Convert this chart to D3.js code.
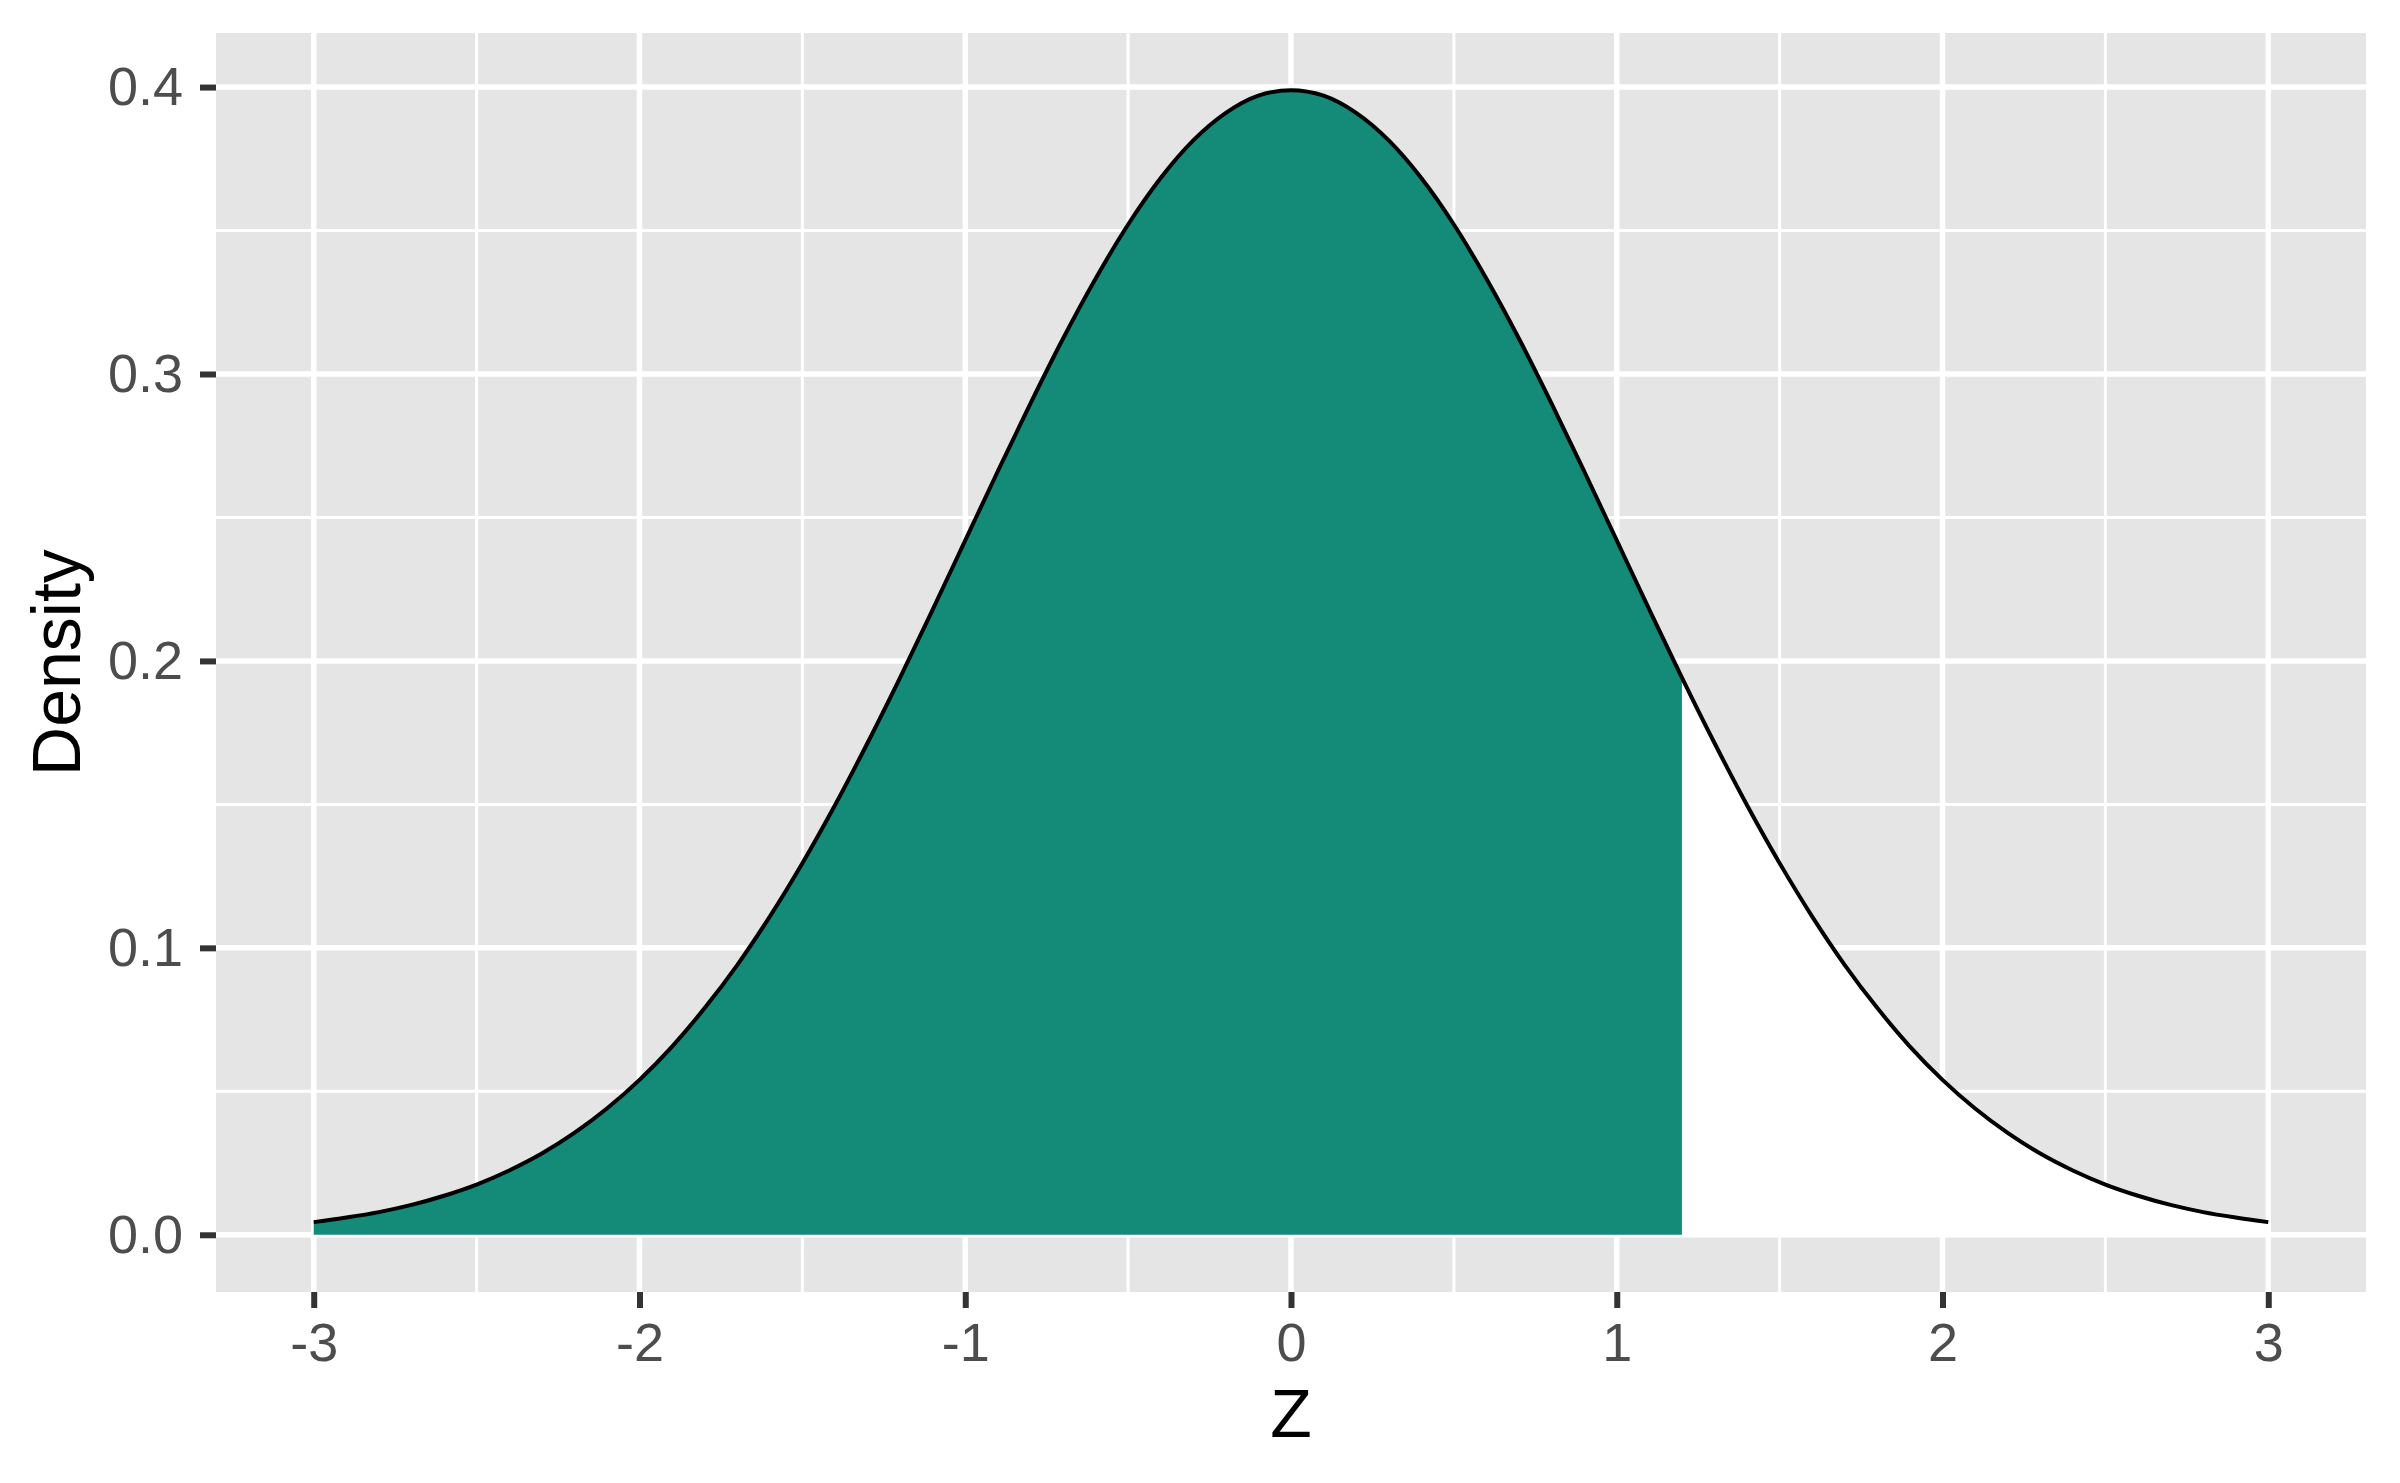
<!DOCTYPE html>
<html>
<head>
<meta charset="utf-8">
<script src="https://cdn.jsdelivr.net/npm/d3@7"></script>
<style>
  html, body { margin: 0; padding: 0; background: #ffffff; }
  svg { display: block; font-family: "Liberation Sans", Arial, Helvetica, sans-serif; }
</style>
</head>
<body>
<svg id="chart" width="2400" height="1483"></svg>
<script>
// ---- data ----
const zValues = [-3.0,-2.9,-2.8,-2.7,-2.6,-2.5,-2.4,-2.3,-2.2,-2.1,-2.0,-1.9,-1.8,-1.7,-1.6,-1.5,-1.4,-1.3,-1.2,-1.1,
  -1.0,-0.9,-0.8,-0.7,-0.6,-0.5,-0.4,-0.3,-0.2,-0.1,0.0,0.1,0.2,0.3,0.4,0.5,0.6,0.7,0.8,0.9,
  1.0,1.1,1.2,1.3,1.4,1.5,1.6,1.7,1.8,1.9,2.0,2.1,2.2,2.3,2.4,2.5,2.6,2.7,2.8,2.9,3.0];
const densityValues = [0.0044,0.0060,0.0079,0.0104,0.0136,0.0175,0.0224,0.0283,0.0355,0.0440,0.0540,0.0656,0.0790,0.0940,0.1109,0.1295,0.1497,0.1714,0.1942,0.2179,
  0.2420,0.2661,0.2897,0.3123,0.3332,0.3521,0.3683,0.3814,0.3910,0.3970,0.3989,0.3970,0.3910,0.3814,0.3683,0.3521,0.3332,0.3123,0.2897,0.2661,
  0.2420,0.2179,0.1942,0.1714,0.1497,0.1295,0.1109,0.0940,0.0790,0.0656,0.0540,0.0440,0.0355,0.0283,0.0224,0.0175,0.0136,0.0104,0.0079,0.0060,0.0044];
const shadeUpper = 1.2;
const xTicks = [-3,-2,-1,0,1,2,3];
const xMinor = [-2.5,-1.5,-0.5,0.5,1.5,2.5];
const yTicks = [0.0,0.1,0.2,0.3,0.4];
const yMinor = [0.05,0.15,0.25,0.35];
const xLabel = "Z";
const yLabel = "Density";

const points = zValues.map((z, i) => ({ z: z, d: densityValues[i] }));
const shaded = points.filter(p => p.z <= shadeUpper + 1e-9);

// ---- layout ----
const panel = { left: 216, right: 2366, top: 33, bottom: 1292 };
const svg = d3.select("#chart");

const zMin = d3.min(zValues), zMax = d3.max(zValues);
const zPad = (zMax - zMin) * 0.05;
const dMax = d3.max(densityValues);
const dPad = dMax * 0.05;

const x = d3.scaleLinear().domain([zMin - zPad, zMax + zPad]).range([panel.left, panel.right]);
const y = d3.scaleLinear().domain([0 - dPad, dMax + dPad]).range([panel.bottom, panel.top]);

// panel background
svg.append("rect")
  .attr("x", panel.left).attr("y", panel.top)
  .attr("width", panel.right - panel.left).attr("height", panel.bottom - panel.top)
  .attr("fill", "#E5E5E5");

const grid = svg.append("g");
// minor grid
grid.selectAll("line.xminor").data(xMinor).enter().append("line")
  .attr("x1", d => x(d)).attr("x2", d => x(d))
  .attr("y1", panel.top).attr("y2", panel.bottom)
  .attr("stroke", "#ffffff").attr("stroke-width", 3);
grid.selectAll("line.yminor").data(yMinor).enter().append("line")
  .attr("y1", d => y(d)).attr("y2", d => y(d))
  .attr("x1", panel.left).attr("x2", panel.right)
  .attr("stroke", "#ffffff").attr("stroke-width", 3);
// major grid
grid.selectAll("line.xmajor").data(xTicks).enter().append("line")
  .attr("x1", d => x(d)).attr("x2", d => x(d))
  .attr("y1", panel.top).attr("y2", panel.bottom)
  .attr("stroke", "#ffffff").attr("stroke-width", 5.5);
grid.selectAll("line.ymajor").data(yTicks).enter().append("line")
  .attr("y1", d => y(d)).attr("y2", d => y(d))
  .attr("x1", panel.left).attr("x2", panel.right)
  .attr("stroke", "#ffffff").attr("stroke-width", 5.5);

// white area under full curve
const area = d3.area().x(d => x(d.z)).y0(y(0)).y1(d => y(d.d)).curve(d3.curveMonotoneX);
svg.append("path").datum(points).attr("d", area).attr("fill", "#ffffff");
// shaded area
svg.append("path").datum(shaded).attr("d", area).attr("fill", "#148A78");
// curve
const line = d3.line().x(d => x(d.z)).y(d => y(d.d)).curve(d3.curveMonotoneX);
svg.append("path").datum(points).attr("d", line)
  .attr("fill", "none").attr("stroke", "#000000").attr("stroke-width", 4);

// axes
const xAxis = d3.axisBottom(x).tickValues(xTicks).tickSize(16).tickPadding(15).tickFormat(d3.format("d"));
const gx = svg.append("g").attr("transform", `translate(0,${panel.bottom})`).call(xAxis);
gx.select(".domain").remove();
gx.selectAll(".tick line").attr("stroke", "#333333").attr("stroke-width", 6);
gx.selectAll(".tick text").attr("fill", "#4D4D4D").attr("font-size", 54)
  .attr("font-family", "'Liberation Sans', Arial, sans-serif")
  .text(d => d < 0 ? "-" + Math.abs(d) : String(d));

const yAxis = d3.axisLeft(y).tickValues(yTicks).tickSize(16).tickPadding(17).tickFormat(d3.format(".1f"));
const gy = svg.append("g").attr("transform", `translate(${panel.left},0)`).call(yAxis);
gy.select(".domain").remove();
gy.selectAll(".tick line").attr("stroke", "#333333").attr("stroke-width", 6);
gy.selectAll(".tick text").attr("fill", "#4D4D4D").attr("font-size", 54)
  .attr("font-family", "'Liberation Sans', Arial, sans-serif");

// axis titles
svg.append("text")
  .attr("x", (panel.left + panel.right) / 2).attr("y", 1437)
  .attr("text-anchor", "middle").attr("font-size", 68).attr("fill", "#000000")
  .text(xLabel);
svg.append("text")
  .attr("transform", `translate(80,${(panel.top + panel.bottom) / 2}) rotate(-90)`)
  .attr("text-anchor", "middle").attr("font-size", 68).attr("fill", "#000000")
  .text(yLabel);
</script>
</body>
</html>
